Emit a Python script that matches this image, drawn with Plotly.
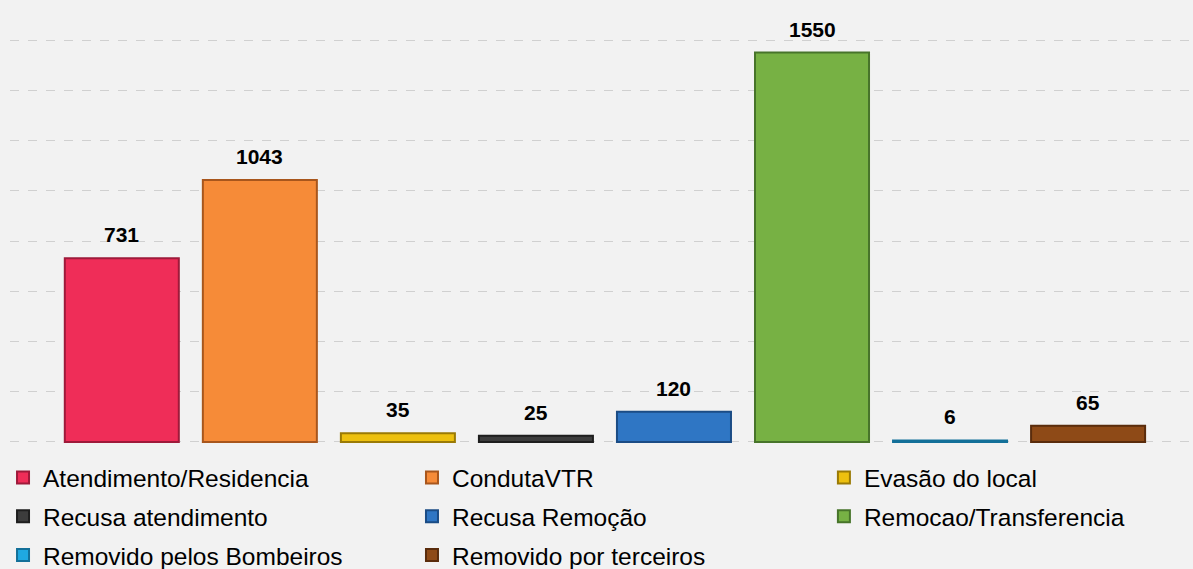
import plotly.graph_objects as go

# categorias e valores
categorias = ['Atendimento/Residencia', 'CondutaVTR', 'Evasão do local', 'Recusa atendimento',
              'Recusa Remoção', 'Remocao/Transferencia', 'Removido pelos Bombeiros', 'Removido por terceiros']
valores = [731, 1043, 35, 25, 120, 1550, 6, 65]
cores = ['#EF2D58', '#F68B38', '#EDC00F', '#3C3C3C', '#2F76C4', '#77B144', '#1FA9E1', '#8E4A17']
bordas = ['#9E1A3A', '#A8561C', '#9A7A05', '#1E1E1E', '#1B4C85', '#47742A', '#137099', '#5A2C0C']

# legenda em 3 colunas (ordem por linha, como no Excel)
colunas_legenda = ['legend', 'legend2', 'legend3']

fig = go.Figure()

for i, (cat, val, cor, borda) in enumerate(zip(categorias, valores, cores, bordas)):
    fig.add_trace(go.Bar(x=[cat], y=[val], name=cat, width=0.826,
                         legend=colunas_legenda[i % 3], legendgroup=cat,
                         marker=dict(color=cor, line=dict(color=borda, width=2))))
    # rótulo de valor acima da barra
    fig.add_annotation(x=cat, y=val, text='<b>%d</b>' % val, showarrow=False,
                       yanchor='bottom', yshift=10,
                       font=dict(family='Liberation Sans', size=21, color='black'))

fonte_legenda = dict(family='Liberation Sans', size=24.5, color='black')
leg = dict(orientation='v', yanchor='top', y=-0.027, xanchor='left', tracegroupgap=4,
           font=fonte_legenda, itemwidth=30, bgcolor='rgba(0,0,0,0)', traceorder='grouped')

fig.update_layout(
    width=1193, height=569,
    margin=dict(l=10, r=0, t=38, b=125, autoexpand=False),
    paper_bgcolor='#F2F2F2', plot_bgcolor='#F2F2F2',
    barmode='overlay',
    showlegend=True,
    legend=dict(leg, x=-0.0059),
    legend2=dict(leg, x=0.3398),
    legend3=dict(leg, x=0.688),
    font=dict(family='Liberation Sans'),
)

fig.update_xaxes(range=[-0.81, 7.76], showticklabels=False, showgrid=False, zeroline=False,
                 showline=False, ticks='')
fig.update_yaxes(range=[-8, 1608], tickvals=[0, 200, 400, 600, 800, 1000, 1200, 1400, 1600],
                 showticklabels=False, showgrid=True,
                 gridcolor='#D0D0D0', griddash='dash', gridwidth=1, zeroline=False, ticks='')

# tira a margem do body para o gráfico ocupar a janela toda
fig.write_html("out.html", config={'displayModeBar': False},
               post_script="document.body.style.margin='0';")
